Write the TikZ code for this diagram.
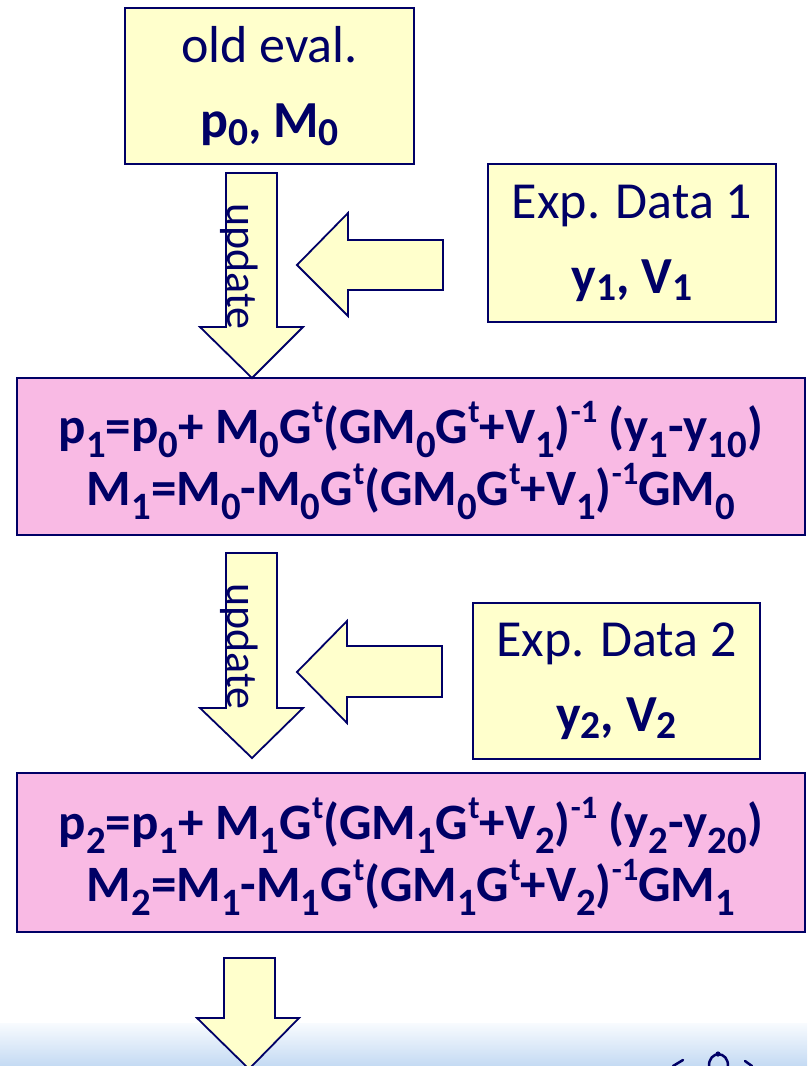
\documentclass[tikz,border=0pt]{standalone}
\usepackage{fontspec}
\usepackage{graphicx}
\setmainfont{Carlito}
\definecolor{navy}{HTML}{000066}
\definecolor{paleyellow}{HTML}{FFFFCC}
\definecolor{pinkfill}{HTML}{F9BAE4}
\definecolor{bandtop}{HTML}{F8FBFE}
\definecolor{bandbot}{HTML}{C4DAF3}
% lowered / raised small indices
\newcommand\dn[2][0.28em]{\raisebox{-#1}{\scalebox{0.76}{#2}}}
\newcommand\up[1]{\raisebox{0.4em}{\scalebox{0.64}{#1}}}
\tikzset{
  ybox/.style={draw=navy, line width=2pt, fill=paleyellow, text=navy,
    align=center, inner sep=0pt, font=\fontsize{52}{75}\selectfont},
  pbox/.style={draw=navy, line width=2pt, fill=pinkfill, text=navy,
    align=center, inner sep=0pt, font=\fontsize{51}{62}\selectfont\bfseries},
  blockarrow/.style={draw=navy, line width=1.8pt, fill=paleyellow, line join=miter},
  arrowlabel/.style={text=navy, font=\fontsize{44}{44}\selectfont, rotate=-90,
    anchor=base west, inner sep=0pt},
  logo/.style={draw=navy, line width=2.5pt, line cap=round}
}
\begin{document}
\begin{tikzpicture}[x=1pt,y=-1pt]
\useasboundingbox (0,0) rectangle (807,1066);
\clip (0,0) rectangle (807,1066);

% light blue band along the bottom
\shade[top color=bandtop, bottom color=bandbot, draw=none] (0,1023) rectangle (807,1066);

% boxes
\node[ybox, minimum width=289pt, minimum height=156pt] (old) at (269.5,86)
  {old eval.\\\textbf{p\dn[0.16em]{0}, M\dn[0.16em]{0}}};
\node[ybox, minimum width=288pt, minimum height=158pt] (exp1) at (632,243)
  {Exp. Data 1\\\textbf{y\dn[0.14em]{1}, V\dn[0.14em]{1}}};
\node[pbox, minimum width=788pt, minimum height=157pt] (upd1) at (411,456.5)
  {\rule{0pt}{50pt}p\dn{1}=p\dn{0}+ M\dn{0}G\up{t}(GM\dn{0}G\up{t}+V\dn{1})\up{-1} (y\dn{1}-y\dn{10})\\
   M\dn{1}=M\dn{0}-M\dn{0}G\up{t}(GM\dn{0}G\up{t}+V\dn{1})\up{-1}GM\dn{0}};
\node[ybox, minimum width=287pt, minimum height=156pt] (exp2) at (616.5,681)
  {Exp. Data 2\\\textbf{y\dn[0.14em]{2}, V\dn[0.14em]{2}}};
\node[pbox, minimum width=788pt, minimum height=159pt] (upd2) at (411,852.5)
  {\rule{0pt}{50pt}p\dn{2}=p\dn{1}+ M\dn{1}G\up{t}(GM\dn{1}G\up{t}+V\dn{2})\up{-1} (y\dn{2}-y\dn{20})\\
   M\dn{2}=M\dn{1}-M\dn{1}G\up{t}(GM\dn{1}G\up{t}+V\dn{2})\up{-1}GM\dn{1}};

% block arrows: update steps (downward)
\draw[blockarrow] (226,173) -- (277,173) -- (277,327) -- (303,327) -- (252,378)
  -- (200,327) -- (226,327) -- cycle;
\node[arrowlabel] (lab1) at (227,203) {update};
\draw[blockarrow] (226,553) -- (277,553) -- (277,708) -- (303,708) -- (252,758)
  -- (200,708) -- (226,708) -- cycle;
\node[arrowlabel] (lab2) at (227,583) {update};
\draw[blockarrow] (224,958) -- (275,958) -- (275,1018) -- (299,1018) -- (249,1069)
  -- (197,1018) -- (224,1018) -- cycle;

% block arrows: experimental data feeding in (leftward)
\draw[blockarrow] (443,240) -- (348,240) -- (348,213) -- (297,265) -- (348,316)
  -- (348,290) -- (443,290) -- cycle;
\draw[blockarrow] (442,646) -- (347,646) -- (347,621) -- (297,672) -- (347,723)
  -- (347,697) -- (442,697) -- cycle;

% emblem strokes at the lower right
\draw[logo] (673,1066) -- (683,1060);
\draw[logo] (709,1067) .. controls (708,1050) and (729,1050) .. (728,1067);
\fill[navy] (718,1054) circle (2.6);
\draw[logo] (745,1061) -- (752,1066);
\end{tikzpicture}
\end{document}
